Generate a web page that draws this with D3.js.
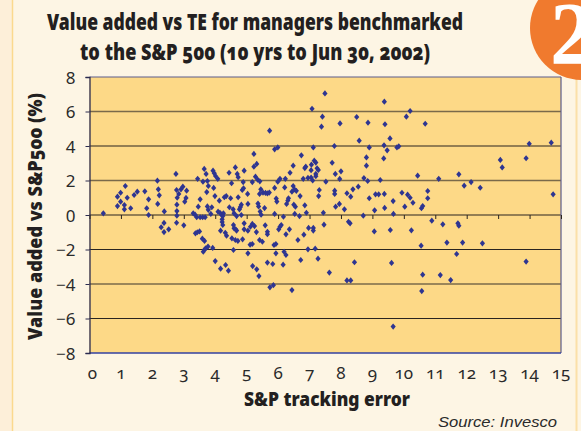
<!DOCTYPE html>
<html><head><meta charset="utf-8">
<script src="https://cdn.jsdelivr.net/npm/d3@7"></script>
<style>
html,body{margin:0;padding:0;background:#fdf5e4;}
svg{display:block;}
</style></head>
<body>
<script>
// ---------- DATA ----------
const titleLines = ["Value added vs TE for managers benchmarked", "to the S&P 500 (10 yrs to Jun 30, 2002)"];
const xTitle = "S&P tracking error";
const yTitle = "Value added vs S&P500 (%)";
const sourceText = "Source: Invesco";
const badgeText = "2";
const xTicks = [0,1,2,3,4,5,6,7,8,9,10,11,12,13,14,15];
const yTicks = [-8,-6,-4,-2,0,2,4,6,8];
const trackingError = [
0.44,0.89,0.89,0.99,0.99,1.11,1.11,1.14,1.20,1.31,1.42,1.52,1.76,1.82,1.88,1.88,2.16,2.19,2.22,2.17,
2.38,2.75,2.77,2.79,2.78,2.78,2.78,2.84,2.91,2.97,3.09,3.07,3.03,3.30,3.44,3.46,3.52,3.61,3.65,3.71,
3.73,3.75,3.78,3.75,3.78,3.86,3.89,3.93,3.97,4.01,4.08,3.95,3.99,4.09,4.13,4.20,4.26,4.29,4.35,4.44,
4.49,4.52,4.45,4.57,4.60,4.64,4.70,4.73,4.73,4.77,4.83,4.86,4.90,4.89,4.92,4.83,5.03,5.04,5.18,5.23,
5.23,5.28,5.32,5.35,5.42,5.36,5.38,5.43,5.46,5.45,5.41,5.52,5.60,5.66,5.72,5.57,5.73,5.89,5.89,5.94,
5.96,5.99,5.99,6.06,5.89,6.23,6.21,6.27,6.31,6.33,6.38,6.44,6.48,6.48,6.52,6.58,6.50,6.55,6.53,6.68,
6.70,6.74,6.80,6.85,6.88,6.85,6.90,6.95,7.08,7.12,7.15,7.20,7.24,7.06,7.05,7.05,7.10,7.20,7.29,7.31,
7.38,7.41,7.49,7.52,7.44,
2.28,2.37,2.37,2.52,2.77,3.00,3.36,3.41,3.52,3.60,3.68,3.37,3.43,3.50,3.59,3.66,3.62,3.66,3.70,3.77,
3.92,4.00,4.17,4.33,4.42,4.15,4.24,4.22,4.22,4.24,4.17,4.32,4.36,4.58,4.60,4.65,4.68,4.53,4.64,4.72,
4.87,4.58,4.68,4.80,4.92,4.92,5.04,5.12,5.18,5.25,5.31,5.04,5.11,5.18,5.19,5.32,5.39,5.41,5.50,5.59,
5.66,5.66,5.66,5.83,5.74,5.85,5.87,5.93,5.93,6.02,6.06,6.10,6.17,6.16,6.19,6.25,6.25,6.36,6.44,6.63,
6.72,6.82,6.95,6.97,7.12,7.12,7.18,7.27,7.46,7.63,
7.28,7.20,7.72,7.79,7.82,8.00,7.96,7.97,7.80,7.80,7.83,7.95,8.11,8.19,8.31,8.38,8.55,8.50,8.58,8.71,
8.73,8.81,8.81,8.85,8.86,8.90,8.90,9.10,9.20,9.07,9.25,9.36,9.37,9.38,9.40,9.38,9.39,9.47,9.56,9.66,
9.67,9.78,9.84,9.94,10.03,10.08,10.20,10.12,10.20,10.29,10.44,10.56,10.60,10.68,10.76,10.76,11.11,11.75,11.92,12.14,
12.43,13.07,13.13,13.89,13.99,14.69,14.75,
8.24,8.29,8.19,8.31,8.43,9.06,9.57,9.61,9.66,10.24,10.55,10.57,10.60,10.89,11.16,11.24,11.37,11.49,11.68,11.72,
11.75,11.87,12.50,13.89
];
const valueAdded = [
0.10,1.06,0.52,1.29,0.77,0.58,0.33,1.68,1.00,0.39,1.16,1.35,1.37,0.39,0.91,0.00,1.99,1.49,1.14,0.64,
0.21,2.38,1.45,1.00,0.60,0.23,-0.04,1.22,1.49,1.64,1.41,0.99,0.77,0.10,2.10,0.48,0.91,1.93,2.67,2.38,
1.33,1.97,1.68,0.50,0.30,0.06,0.45,2.57,2.42,2.26,2.10,1.57,1.10,0.19,0.83,0.02,0.10,1.03,1.10,2.45,
0.97,1.84,0.45,0.33,0.10,2.76,2.38,2.19,1.03,0.33,0.60,1.45,1.55,1.91,2.57,0.00,1.22,0.64,1.91,3.54,
2.80,2.22,2.96,2.05,1.95,0.66,0.50,0.20,0.02,1.49,1.22,1.30,1.28,1.25,1.30,0.40,4.89,1.57,3.81,0.95,
0.78,3.92,1.93,2.10,0.06,2.10,1.60,0.64,0.84,0.97,2.45,1.35,2.86,1.68,1.49,1.40,0.60,0.48,0.06,-0.06,
1.10,3.46,2.10,2.72,2.80,0.56,0.13,2.15,6.16,3.92,3.15,3.04,2.71,2.92,2.60,2.17,2.00,2.25,1.10,1.45,
5.12,5.70,7.05,1.93,0.13,
-0.71,-0.46,-0.99,-0.83,-0.45,-0.60,0.02,-0.13,-0.13,-0.13,-0.13,-1.06,-1.00,-0.95,-1.37,-1.50,-2.13,-2.00,-1.93,-1.83,
-1.91,-2.67,-3.11,-2.90,-3.23,0.13,-0.06,-0.25,-0.41,-0.58,-0.91,-1.03,-1.20,-0.58,-0.77,-0.83,-0.90,-1.35,-1.45,-1.50,
-1.41,-2.03,-0.06,0.46,-0.48,-0.83,-0.91,-0.68,-0.52,-0.64,-0.99,-2.22,-1.72,-1.68,-2.96,-3.15,-3.54,-1.45,-1.55,-0.60,
-0.97,-1.11,-2.76,-2.84,-4.19,-4.07,-1.74,-1.68,-2.22,-0.83,-0.68,-0.58,-0.10,-2.88,-2.13,-2.32,-1.12,-0.83,-4.35,-1.45,
-2.61,-1.14,-1.99,-0.75,-0.75,-0.90,-1.95,-2.53,-0.56,-3.34,
2.61,2.38,3.03,4.00,2.38,2.53,2.09,5.31,1.41,1.22,0.48,0.64,0.33,1.26,1.06,1.49,1.64,5.68,4.31,-0.04,
2.14,2.86,3.34,1.97,5.35,3.92,0.97,1.20,1.20,0.27,2.03,3.28,4.04,6.57,5.26,1.22,0.41,3.75,4.44,0.81,
0.06,3.92,3.98,1.29,0.48,5.70,6.03,1.18,1.00,0.71,2.28,0.39,0.52,5.29,1.39,0.97,2.10,2.36,1.70,1.91,
1.58,3.19,2.76,3.29,4.13,4.19,1.20,
-0.39,-0.48,-3.79,-3.79,-2.74,-0.95,-0.87,-2.78,-6.47,-0.89,-1.78,-4.41,-3.46,-0.33,-3.48,-0.54,-1.60,-3.77,-2.26,-0.48,
-0.62,-1.60,-1.64,-2.70
];
// ---------- CHART ----------
const W = 581, H = 431;
const svg = d3.select("body").append("svg").attr("width", W).attr("height", H);

// page background
svg.append("rect").attr("width", W).attr("height", H).attr("fill", "#fdf5e4");
svg.append("rect").attr("width", 12).attr("height", H).attr("fill", "#fdefd9");
svg.append("line").attr("x1", 12.5).attr("x2", 12.5).attr("y1", 0).attr("y2", H)
  .attr("stroke", "#fbd98e").attr("stroke-width", 1.5);
svg.append("line").attr("x1", 576.5).attr("x2", 576.5).attr("y1", 0).attr("y2", H)
  .attr("stroke", "#fbe0a8").attr("stroke-width", 2);

const x = d3.scaleLinear().domain([0, 15]).range([89.5, 561]);
const y = d3.scaleLinear().domain([-8, 8]).range([353, 77]);

// plot area
svg.append("rect").attr("x", x(0)).attr("y", y(8)).attr("width", x(15) - x(0)).attr("height", y(-8) - y(8))
  .attr("fill", "#fdd987");

// gridlines
const softLines = new Set([6, 2, -4]);
svg.append("g").selectAll("line").data(yTicks.filter(d => d > -8 && d < 8)).join("line")
  .attr("x1", x(0)).attr("x2", x(15))
  .attr("y1", d => y(d)).attr("y2", d => y(d))
  .attr("stroke", d => softLines.has(d) ? "#7a6a4a" : "#2a2520")
  .attr("stroke-width", d => softLines.has(d) ? 1.6 : 1.1);

// plot borders
svg.append("line").attr("x1", x(0)).attr("x2", x(15)).attr("y1", y(8)).attr("y2", y(8))
  .attr("stroke", "#5c5c8c").attr("stroke-width", 1.2);
svg.append("line").attr("x1", x(15)).attr("x2", x(15)).attr("y1", y(8)).attr("y2", y(-8))
  .attr("stroke", "#5c5c8c").attr("stroke-width", 1.2);
svg.append("line").attr("x1", x(0)).attr("x2", x(15)).attr("y1", y(-8)).attr("y2", y(-8))
  .attr("stroke", "#3340a0").attr("stroke-width", 1.3);

// y axis
const yAxis = svg.append("g").attr("transform", `translate(${x(0)},0)`)
  .call(d3.axisLeft(y).tickValues(yTicks).tickSize(4).tickPadding(10)
    .tickFormat(d => d < 0 ? "\u2212" + Math.abs(d) : String(d)));
yAxis.select(".domain").attr("stroke", "#2c2c50").attr("stroke-width", 1.3);
yAxis.selectAll(".tick line").attr("stroke", "#2c2c50");
yAxis.selectAll(".tick text").attr("fill", "#2a2a2a")
  .style("font-family", "'Noto Sans', sans-serif").style("font-size", "17px").attr("dy", "0.36em");

// x axis ticks on the zero line
const xAxis = svg.append("g").attr("transform", `translate(0,${y(0)})`)
  .call(d3.axisBottom(x).tickValues(xTicks).tickSize(4).tickFormat(""));
xAxis.select(".domain").remove();
xAxis.selectAll(".tick line").attr("stroke", "#2a2520");

// x labels below plot
svg.append("g").selectAll("text").data(xTicks).join("text")
  .attr("x", d => x(d) + (d === 0 ? 3 : 0)).attr("y", 379)
  .attr("text-anchor", "middle")
  .attr("fill", "#2a2a2a")
  .style("font-family", "'Noto Sans', sans-serif").style("font-size", "17px")
  .style("font-variant-numeric", "oldstyle-nums")
  .text(d => d);

// points
const diamond = {
  draw(ctx, size) {
    const h = Math.sqrt(size) * 0.62, w = Math.sqrt(size) * 0.52;
    ctx.moveTo(0, -h); ctx.lineTo(w, 0); ctx.lineTo(0, h); ctx.lineTo(-w, 0); ctx.closePath();
  }
};
const pts = trackingError.map((t, i) => ({ t, v: valueAdded[i] }));
svg.append("g").selectAll("path").data(pts).join("path")
  .attr("transform", d => `translate(${x(d.t)},${y(d.v)})`)
  .attr("d", d3.symbol().type(diamond).size(25))
  .attr("fill", "#2e3591");

// titles
const titleFont = "'Noto Sans', sans-serif";
const tl = svg.append("g");
tl.append("text").attr("x", 255).attr("y", 30).attr("text-anchor", "middle")
  .attr("textLength", 416).attr("lengthAdjust", "spacingAndGlyphs")
  .style("font-family", titleFont).style("font-weight", "900").style("font-size", "22px")
  .style("font-variant-numeric", "oldstyle-nums").attr("fill", "#231f20").text(titleLines[0]);
tl.append("text").attr("x", 255).attr("y", 60).attr("text-anchor", "middle")
  .attr("textLength", 350).attr("lengthAdjust", "spacingAndGlyphs")
  .style("font-family", titleFont).style("font-weight", "900").style("font-size", "22px")
  .style("font-variant-numeric", "oldstyle-nums").attr("fill", "#231f20").text(titleLines[1]);

svg.append("text").attr("x", 327).attr("y", 406).attr("text-anchor", "middle")
  .attr("textLength", 166).attr("lengthAdjust", "spacingAndGlyphs")
  .style("font-family", titleFont).style("font-weight", "900").style("font-size", "20px")
  .attr("fill", "#231f20").text(xTitle);

svg.append("text").attr("transform", "translate(42,216.5) rotate(-90)").attr("text-anchor", "middle")
  .attr("textLength", 247).attr("lengthAdjust", "spacingAndGlyphs")
  .style("font-family", titleFont).style("font-weight", "900").style("font-size", "20px")
  .style("font-variant-numeric", "oldstyle-nums")
  .attr("fill", "#231f20").text(yTitle);

svg.append("text").attr("x", 438).attr("y", 427)
  .attr("textLength", 119).attr("lengthAdjust", "spacingAndGlyphs")
  .style("font-family", "'Liberation Sans', Arial, sans-serif").style("font-style", "italic").style("font-size", "15px")
  .attr("fill", "#2a2a2a").text(sourceText);

// badge (clipped by the page edge, as in the source graphic)
svg.append("circle").attr("cx", 582).attr("cy", 28).attr("r", 52).attr("fill", "#f07a2e");
svg.append("text").attr("x", 550).attr("y", 63)
  .style("font-family", "'Liberation Serif', serif").style("font-weight", "bold").style("font-size", "88px")
  .attr("fill", "#ffffff").text(badgeText);
</script>
</body></html>
